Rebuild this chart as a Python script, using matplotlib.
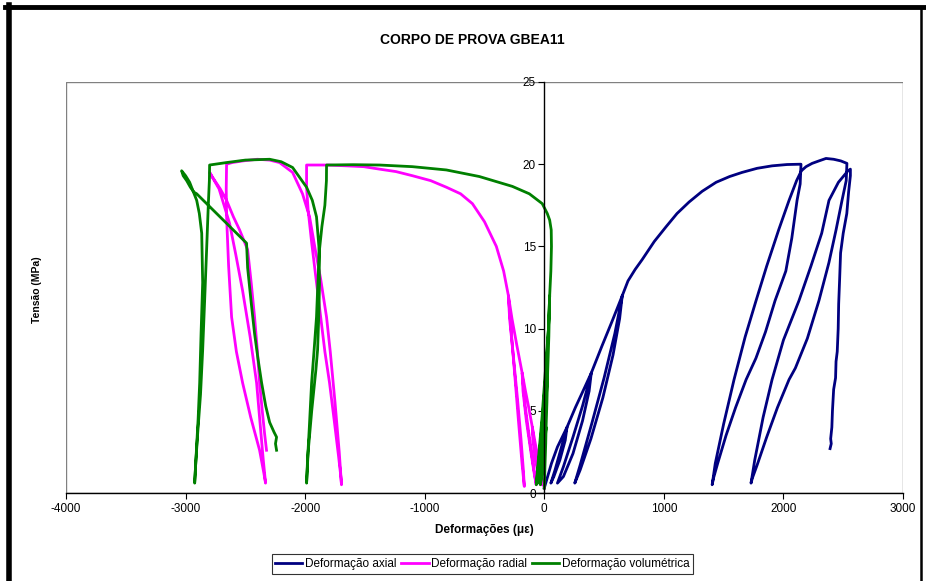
import matplotlib

matplotlib.use("Agg")
import matplotlib.pyplot as plt
from matplotlib.lines import Line2D
from matplotlib.patches import Rectangle

plt.rcParams["font.family"] = ["Liberation Sans", "DejaVu Sans"]
plt.rcParams["axes.unicode_minus"] = False

# strain (microstrain) / stress (MPa) pairs, in test order
axial_strain = [
    0, 20, 60, 110, 190, 175, 130, 80, 55, 90, 140, 190, 260, 330, 393,
    375, 320, 240, 160, 110, 160, 240, 320, 393, 480, 570, 652,
    630, 575, 490, 390, 300, 255, 300, 400, 500, 590, 652, 700, 760, 819, 920,
    1019, 1110, 1211, 1320, 1437, 1550, 1654, 1780, 1905, 2030, 2147,
    2140, 2114, 2070, 2020, 1930, 1850, 1770, 1688, 1600, 1520, 1450, 1415, 1404,
    1430, 1500, 1587, 1680, 1771, 1860, 1960, 2047, 2110, 2150, 2189, 2240,
    2297, 2356, 2420, 2480, 2531,
    2525, 2490, 2440, 2380, 2297, 2200, 2100, 2047, 1950, 1860, 1780, 1740, 1729,
    1760, 1830, 1905, 2000, 2130, 2230, 2320, 2381, 2460, 2540, 2560,
    2560, 2545, 2530, 2500, 2478, 2470, 2462, 2458, 2450, 2440, 2436, 2420,
    2410, 2405, 2395, 2400, 2390,
]
axial_stress = [
    0.3, 0.8, 1.8, 2.8, 4.0, 3.2, 2.0, 1.0, 0.6, 1.4, 2.7, 4.0, 5.2, 6.3, 7.3,
    6.2, 4.4, 2.4, 1.0, 0.6, 1.6, 3.4, 5.3, 7.3, 8.9, 10.5, 12.0,
    10.6, 8.4, 5.8, 3.3, 1.4, 0.6, 1.7, 4.3, 7.0, 9.7, 12.0, 12.9, 13.6, 14.2, 15.3,
    16.2, 17.0, 17.7, 18.35, 18.9, 19.25, 19.5, 19.75, 19.9, 19.98, 20.0,
    18.8, 17.8, 15.5, 13.5, 11.7, 9.8, 8.2, 6.9, 5.2, 3.5, 1.8, 0.9, 0.5,
    1.8, 4.2, 6.9, 9.5, 11.7, 13.8, 16.0, 17.8, 19.0, 19.6, 19.85, 20.05,
    20.2, 20.35, 20.3, 20.2, 20.05,
    19.0, 17.8, 16.0, 14.0, 11.7, 9.4, 7.6, 6.9, 5.2, 3.4, 1.7, 0.9, 0.6,
    2.0, 4.6, 6.9, 9.3, 11.7, 13.8, 15.8, 17.8, 18.9, 19.6, 19.7,
    19.3, 18.3, 17.0, 15.8, 14.6, 13.0, 11.5, 10.0, 8.6, 8.0, 7.0, 6.3,
    5.0, 4.0, 3.3, 3.0, 2.7,
]

radial_strain = [
    0, -15, -40, -70, -100, -95, -75, -45, -25, -50, -80, -100, -130, -160, -185,
    -178, -150, -110, -80, -67, -90, -125, -160, -185, -230, -270, -300,
    -290, -260, -225, -195, -175, -167, -185, -215, -245, -275, -300, -340,
    -401, -500, -601, -700, -819, -950, -1103, -1240, -1378, -1510, -1654,
    -1820, -1988,
    -1988, -1975, -1945, -1905, -1870, -1835, -1796, -1755, -1720, -1700, -1696,
    -1715, -1750, -1790, -1821, -1870, -1915, -1963, -2022, -2105, -2214,
    -2297, -2400, -2520, -2610, -2657,
    -2660, -2657, -2640, -2615, -2575, -2523, -2455, -2381, -2345, -2331,
    -2350, -2380, -2406, -2460, -2523, -2580, -2632, -2720, -2799,
    -2774, -2710, -2657, -2600, -2548, -2481, -2450, -2423, -2400, -2381,
    -2360, -2339, -2323,
]
radial_stress = [
    0.3, 0.8, 1.8, 2.8, 4.0, 3.2, 2.0, 1.0, 0.5, 1.4, 2.7, 4.0, 5.2, 6.3, 7.3,
    6.2, 4.4, 2.4, 1.0, 0.5, 1.6, 3.4, 5.3, 7.3, 9.0, 10.6, 12.0,
    10.6, 8.4, 5.8, 3.3, 1.4, 0.4, 1.7, 4.3, 7.0, 9.7, 12.0, 13.5,
    15.0, 16.5, 17.6, 18.2, 18.6, 19.0, 19.3, 19.55, 19.7, 19.85, 19.9,
    19.95, 19.95,
    18.6, 17.2, 15.2, 12.8, 10.7, 8.6, 6.7, 4.3, 2.2, 0.9, 0.5,
    2.5, 5.5, 8.6, 10.7, 13.0, 14.8, 16.8, 18.2, 19.5, 20.1,
    20.25, 20.3, 20.2, 20.1, 20.0,
    18.5, 16.8, 13.8, 10.7, 8.6, 6.7, 4.6, 2.6, 1.2, 0.6,
    2.0, 4.5, 6.7, 9.5, 12.3, 14.5, 16.4, 18.5, 19.5,
    19.2, 18.5, 17.8, 16.8, 16.0, 14.8, 12.7, 10.7, 8.7, 6.7,
    5.1, 3.6, 2.6,
]

vol_strain = [
    0, 5, 12, 15, 5, -10, -25, -33, -20, 0, 15, 22, 28,
    15, -10, -40, -55, -35, -5, 20, 28, 38, 45,
    35, 15, -15, -45, -67, -50, -20, 10, 35, 45, 55, 60, 58, 45, 25, -17,
    -125, -267, -543, -819, -1103, -1378, -1600, -1821,
    -1822, -1835, -1860, -1880, -1895, -1905, -1925, -1946, -1965, -1980, -1988,
    -1975, -1945, -1910, -1896, -1885, -1880, -1885, -1905, -1940, -1988,
    -2105, -2200, -2297, -2500, -2657, -2799,
    -2801, -2810, -2824, -2840, -2857, -2875, -2899, -2915, -2924,
    -2910, -2895, -2882, -2870, -2857, -2865, -2885, -2907, -2966, -3000, -3033,
    -3020, -2991, -2960, -2930, -2907, -2490, -2481, -2450, -2423, -2395,
    -2364, -2330, -2297, -2260, -2239, -2248, -2239,
]
vol_stress = [
    0.3, 1.5, 3.0, 4.0, 3.0, 1.8, 0.8, 0.5, 1.6, 3.0, 4.0, 5.5, 7.3,
    5.5, 3.5, 1.5, 0.6, 2.0, 4.5, 6.5, 7.3, 9.5, 12.0,
    10.0, 7.5, 4.5, 2.0, 0.5, 2.0, 4.5, 7.5, 10.0, 12.0, 13.5, 15.0, 16.0, 16.6, 17.0, 17.6,
    18.2, 18.65, 19.25, 19.65, 19.85, 19.95, 19.97, 19.95,
    19.0, 17.5, 16.2, 14.8, 12.5, 10.7, 8.7, 6.7, 4.0, 2.0, 0.6,
    2.5, 5.0, 7.5, 8.7, 11.0, 12.8, 15.0, 16.8, 17.8, 18.6,
    19.8, 20.15, 20.3, 20.25, 20.1, 19.95,
    19.0, 17.5, 14.8, 11.8, 8.7, 6.0, 3.6, 1.8, 0.6,
    2.5, 4.5, 6.7, 9.8, 12.8, 15.8, 17.0, 17.8, 18.9, 19.3, 19.6,
    19.3, 19.0, 18.6, 18.3, 18.2, 15.2, 13.7, 11.5, 9.7, 8.2,
    6.7, 5.3, 4.3, 3.7, 3.4, 3.0, 2.6,
]

series_labels = ["Deformação axial", "Deformação radial", "Deformação volumétrica"]
series_colors = ["#000080", "#FF00FF", "#008000"]
x_ticks = [-4000, -3000, -2000, -1000, 0, 1000, 2000, 3000]
y_ticks = [0, 5, 10, 15, 20, 25]

W, H = 926, 581
fig = plt.figure(figsize=(W / 100, H / 100), dpi=100)
ax = fig.add_axes([66 / W, 1 - 493 / H, (903 - 66) / W, (493 - 82) / H])

for xs, ys, color, label in zip(
    [axial_strain, radial_strain, vol_strain],
    [axial_stress, radial_stress, vol_stress],
    series_colors,
    series_labels,
):
    ax.plot(xs, ys, color=color, linewidth=2.0, label=label,
            solid_joinstyle="round", clip_on=False)

ax.set_xlim(-4000, 3000)
ax.set_ylim(0, 25)
ax.set_xticks(x_ticks)
ax.set_yticks(y_ticks)

# grey plot-area frame, value axis crossing at x = 0
ax.add_patch(Rectangle((0, 0), 1, 1, transform=ax.transAxes, fill=False,
                       edgecolor="#808080", linewidth=1.0, zorder=0.5))
for side in ("top", "right"):
    ax.spines[side].set_visible(False)
ax.spines["left"].set_position(("data", 0))
ax.spines["left"].set_color("black")
ax.spines["bottom"].set_color("black")
ax.spines["left"].set_linewidth(1.0)
ax.spines["bottom"].set_linewidth(1.0)
ax.tick_params(axis="both", direction="out", length=4, width=0.8,
               labelsize=8.5, colors="black", pad=3)
ax.tick_params(axis="y", pad=2)

fig.text(0.51, 1 - 40 / H, "CORPO DE PROVA GBEA11", ha="center", va="center",
         fontsize=10, fontweight="bold")
fig.text(484 / W, 1 - 530 / H, "Deformações (με)", ha="center", va="center",
         fontsize=8.5, fontweight="bold")
fig.text(37 / W, 1 - 290 / H, "Tensão (MPa)", ha="center", va="center",
         rotation=90, fontsize=7.5, fontweight="bold")

leg = fig.legend(loc="center", bbox_to_anchor=(482.5 / W, 1 - 564 / H), ncol=3,
                 fontsize=8.5, frameon=True, fancybox=False, handlelength=2.3,
                 handletextpad=0.25, columnspacing=0.4, borderpad=0.3,
                 borderaxespad=0)
leg.get_frame().set_edgecolor("black")
leg.get_frame().set_linewidth(0.8)
for h in leg.get_lines():
    h.set_linewidth(2.0)

# chart-area border
fig.add_artist(Line2D([5 / W, 1], [1 - 7 / H, 1 - 7 / H], color="black",
                      linewidth=3.5, transform=fig.transFigure))
fig.add_artist(Line2D([8.5 / W, 8.5 / W], [0, 1 - 5 / H], color="black",
                      linewidth=4.0, transform=fig.transFigure))
fig.add_artist(Line2D([920.5 / W, 920.5 / W], [0, 1 - 7 / H], color="black",
                      linewidth=1.8, transform=fig.transFigure))

fig.savefig("out.png", dpi=100)
